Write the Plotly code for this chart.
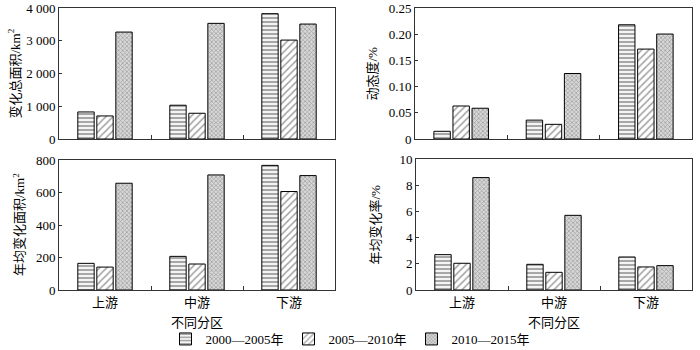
import plotly.graph_objects as go

categories = ["上游", "中游", "下游"]
series_names = ["2000—2005年", "2005—2010年", "2010—2015年"]

total_area = [[826, 1031, 3827], [704, 786, 3020], [3265, 3531, 3510]]
dynamic_deg = [[0.0147, 0.036, 0.218], [0.063, 0.028, 0.1716], [0.0587, 0.125, 0.2003]]
annual_area = [[164, 207, 767], [141, 160, 606], [657, 708, 704]]
annual_rate = [[2.70, 1.96, 2.52], [2.04, 1.35, 1.76], [8.58, 5.70, 1.86]]

ytitles = ["变化总面积/km<sup>2</sup>", "动态度/%", "年均变化面积/km<sup>2</sup>", "年均变化率/%"]
xtitle = "不同分区"
yticks = [
    ([0, 1000, 2000, 3000, 4000], ["0", "1 000", "2 000", "3 000", "4 000"], [0, 4000]),
    ([0, 0.05, 0.10, 0.15, 0.20, 0.25], ["0", "0.05", "0.10", "0.15", "0.20", "0.25"], [0, 0.25]),
    ([0, 200, 400, 600, 800], ["0", "200", "400", "600", "800"], [0, 800]),
    ([0, 2, 4, 6, 8, 10], ["0", "2", "4", "6", "8", "10"], [0, 10]),
]

FONT = "Liberation Serif, Noto Sans CJK SC, serif"

patterns = [
    dict(shape="-", fgcolor="#5a5a5a", bgcolor="#f4f4f4", size=4, solidity=0.5),
    dict(shape="/", fgcolor="#444444", bgcolor="white", size=5, solidity=0.3),
    dict(shape="x", fgcolor="#6a6a6a", bgcolor="#d8d8d8", size=3, solidity=0.45),
]

W, H = 700, 350
panels = [
    # x0, x1, ytop, ybot (pixels)
    (59, 335, 8, 139),
    (415, 692, 8, 139),
    (59, 335, 160, 290),
    (416, 692, 159, 290),
]
ytitle_x = [15, 372, 19, 375]

datasets = [total_area, dynamic_deg, annual_area, annual_rate]

fig = go.Figure()
layout = dict()
annotations = []
for i, (data, (x0, x1, yt, yb)) in enumerate(zip(datasets, panels)):
    n = i + 1
    xa = "x" if n == 1 else f"x{n}"
    ya = "y" if n == 1 else f"y{n}"
    for s in range(3):
        fig.add_trace(go.Bar(
            x=categories, y=data[s], name=series_names[s],
            xaxis=xa, yaxis=ya, showlegend=(i == 0),
            legendgroup=series_names[s],
            marker=dict(color="white", pattern=patterns[s],
                        line=dict(color="black", width=1)),
        ))
    tv, tt, rng = yticks[i]
    layout["xaxis" if n == 1 else f"xaxis{n}"] = dict(
        domain=[x0 / W, x1 / W], anchor=ya,
        showline=True, mirror=True, linecolor="#333333", linewidth=1,
        ticks="inside", tickson="boundaries", ticklen=4, tickcolor="#333333",
        showticklabels=(i >= 2), ticklabelstandoff=0,
        tickfont=dict(family=FONT, size=13, color="black"),
        showgrid=False, zeroline=False, automargin=False,
    )
    layout["yaxis" if n == 1 else f"yaxis{n}"] = dict(
        domain=[1 - yb / H, 1 - yt / H], anchor=xa,
        range=rng, tickvals=tv, ticktext=tt,
        showline=True, mirror=True, linecolor="#333333", linewidth=1,
        ticks="inside", ticklen=3, tickcolor="#333333",
        tickfont=dict(family=FONT, size=13, color="black"),
        showgrid=False, zeroline=False, automargin=False,
    )
    annotations.append(dict(
        text=ytitles[i], x=ytitle_x[i] / W, y=1 - (yt + yb) / 2 / H,
        xref="paper", yref="paper", textangle=-90, showarrow=False,
        xanchor="center", yanchor="middle",
        font=dict(family=FONT, size=13, color="black"),
    ))
    if i >= 2:
        annotations.append(dict(
            text=xtitle, x=(x0 + x1) / 2 / W, y=1 - 322 / H,
            xref="paper", yref="paper", showarrow=False,
            xanchor="center", yanchor="middle",
            font=dict(family=FONT, size=13, color="black"),
        ))

fig.update_layout(
    **layout,
    annotations=annotations,
    width=W, height=H,
    margin=dict(l=0, r=0, t=0, b=0, autoexpand=False),
    paper_bgcolor="white", plot_bgcolor="white",
    barmode="group", bargap=0.38, bargroupgap=0.14,
    legend=dict(orientation="h", x=0.5, xanchor="center", y=1 - 339 / H, yanchor="middle",
                yref="container",
                font=dict(family=FONT, size=13, color="black"),
                entrywidth=78, itemwidth=30, tracegroupgap=0, bgcolor="rgba(0,0,0,0)"),
    font=dict(family=FONT, color="black"),
)

fig.write_html("out.html")
